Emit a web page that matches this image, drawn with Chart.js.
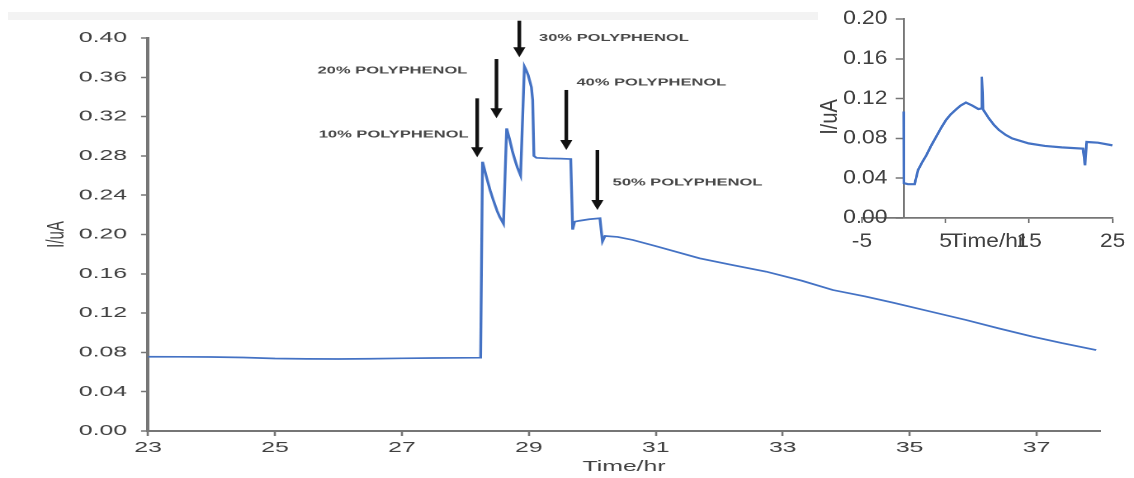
<!DOCTYPE html>
<html>
<head>
<meta charset="utf-8">
<title>Current response to polyphenol additions</title>
<script src="https://cdn.jsdelivr.net/npm/chart.js@4.4.1/dist/chart.umd.min.js"></script>
<style>
  html, body { margin: 0; padding: 0; background: #ffffff; overflow: hidden; }
  #stage { position: relative; width: 1134px; height: 478px; overflow: hidden; background: #ffffff; }
  .band { position: absolute; left: 8px; top: 12px; width: 810px; height: 8px; background: #f3f3f3; }
  /* both plots are drawn narrow and widened horizontally */
  #mainBox { position: absolute; left: 0; top: 0; width: 687px; height: 478px; transform-origin: 0 0; transform: scaleX(1.65066); }
  #insetBox { position: absolute; left: 820px; top: 0; width: 262px; height: 260px; transform-origin: 0 0; transform: scaleX(1.2); }
  canvas { display: block; }
</style>
</head>
<body>
<div id="stage">
  <div class="band"></div>
  <div id="mainBox"><canvas id="mainChart" width="687" height="478"></canvas></div>
  <div id="insetBox"><canvas id="insetChart" width="262" height="260"></canvas></div>
</div>
<script>
// Main trace: current (uA) against time (h), 23–38 h
const timeHr = [
  23.00, 23.50, 24.00, 24.50, 25.00, 25.50, 26.00, 26.50, 27.00, 27.50, 28.00, 28.24,
  28.27, 28.33, 28.39, 28.44, 28.50, 28.54, 28.60,
  28.65, 28.70, 28.74, 28.78, 28.82, 28.87,
  28.93, 28.96, 28.99, 29.04, 29.06, 29.08,
  29.12, 29.30, 29.50, 29.66,
  29.69, 29.72, 29.80, 29.95, 30.12,
  30.16, 30.20, 30.40, 30.64, 31.00, 31.69, 32.20, 32.74, 33.30, 33.79, 34.30, 34.74,
  35.30, 35.89, 36.40, 36.94, 37.40, 37.94
];
const currentUA = [
  0.0756, 0.0755, 0.0753, 0.0748, 0.0738, 0.0734, 0.0733, 0.0735, 0.0740, 0.0743, 0.0745, 0.0746,
  0.274, 0.259, 0.245, 0.235, 0.224, 0.218, 0.211,
  0.308, 0.296, 0.285, 0.276, 0.268, 0.260,
  0.371, 0.367, 0.362, 0.350, 0.337, 0.280,
  0.278, 0.2775, 0.2772, 0.2768,
  0.205, 0.213, 0.214, 0.2155, 0.2165,
  0.193, 0.1985, 0.1975, 0.1944, 0.1882, 0.1758, 0.1690, 0.1622, 0.1530, 0.1435, 0.1370, 0.1306,
  0.1220, 0.1130, 0.1045, 0.0960, 0.0895, 0.0824
];

// Inset trace: the first 25 h of the run
const insetTimeHr = [
  0.00, 0.02, 0.50, 1.30, 1.70, 2.20, 2.70, 3.30, 3.90, 4.50, 5.06, 5.60, 6.25, 6.80, 7.44, 8.20, 8.93,
  9.25, 9.35, 9.50, 10.20, 10.80, 11.40, 12.20, 12.97, 14.95, 16.90, 18.90, 21.47, 21.70, 21.90, 23.25, 25.00
];
const insetCurrentUA = [
  0.107, 0.035, 0.034, 0.034, 0.048, 0.056, 0.063, 0.073, 0.082, 0.091, 0.0985, 0.104, 0.109, 0.113, 0.116, 0.113, 0.1095,
  0.110, 0.142, 0.109, 0.100, 0.0935, 0.0884, 0.0835, 0.080, 0.075, 0.0724, 0.071, 0.0697, 0.053, 0.0764, 0.0757, 0.073
];

// Tick labels
const mainXTicks = [23, 25, 27, 29, 31, 33, 35, 37];
const mainYTicks = [0, 0.04, 0.08, 0.12, 0.16, 0.20, 0.24, 0.28, 0.32, 0.36, 0.40];
const insetXTicks = [-5, 5, 15, 25];
const insetYTicks = [0, 0.04, 0.08, 0.12, 0.16, 0.20];

// Polyphenol additions: arrow time, arrow top/tip current, label anchor (time, current)
const additionLabels = ['10% POLYPHENOL', '20% POLYPHENOL', '30% POLYPHENOL', '40% POLYPHENOL', '50% POLYPHENOL'];
const additionTimes = [28.186, 28.49, 28.85, 29.59, 30.08];
const arrowTopUA = [0.3386, 0.3786, 0.4176, 0.3471, 0.2860];
const arrowTipUA = [0.2786, 0.3183, 0.3804, 0.2860, 0.2249];
const labelTimes = [25.69, 25.67, 29.16, 29.75, 30.32];
const labelUA = [0.3013, 0.3667, 0.3997, 0.3545, 0.2527];

const AXIS = '#767676';
const TEXT = '#404040';
const LINE = '#4472C4';
const FONT = "'Liberation Sans', Arial, sans-serif";
Chart.defaults.font.family = FONT;

function fixedTicks(list) {
  return scale => { scale.ticks = list.map(v => ({ value: v })); };
}

// Arrows and captions marking each addition
const additionMarkers = {
  id: 'additionMarkers',
  afterDatasetsDraw(chart) {
    const { ctx, scales: { x, y } } = chart;
    ctx.save();
    additionLabels.forEach((txt, i) => {
      const px = x.getPixelForValue(additionTimes[i]);
      const top = y.getPixelForValue(arrowTopUA[i]);
      const tip = y.getPixelForValue(arrowTipUA[i]);
      const head = 10;
      ctx.strokeStyle = '#111111';
      ctx.fillStyle = '#111111';
      ctx.lineWidth = 2.2;
      ctx.beginPath();
      ctx.moveTo(px, top);
      ctx.lineTo(px, tip - head + 1);
      ctx.stroke();
      ctx.beginPath();
      ctx.moveTo(px - 3.7, tip - head);
      ctx.lineTo(px + 3.7, tip - head);
      ctx.lineTo(px, tip);
      ctx.closePath();
      ctx.fill();
      ctx.fillStyle = '#474747';
      ctx.font = 'bold 10px ' + FONT;
      ctx.textAlign = 'left';
      ctx.textBaseline = 'middle';
      ctx.fillText(txt, x.getPixelForValue(labelTimes[i]), y.getPixelForValue(labelUA[i]));
    });
    ctx.restore();
  }
};

new Chart(document.getElementById('mainChart'), {
  type: 'line',
  data: {
    datasets: [{
      data: timeHr.map((t, i) => ({ x: t, y: currentUA[i] })),
      borderColor: LINE,
      borderWidth: 1.7,
      pointRadius: 0,
      tension: 0,
      fill: false
    }]
  },
  options: {
    responsive: false,
    animation: false,
    devicePixelRatio: 2,
    layout: { padding: { left: 21.5, right: 20.6, top: 38, bottom: 0 } },
    plugins: { legend: { display: false }, tooltip: { enabled: false } },
    scales: {
      x: {
        type: 'linear', min: 23, max: 38,
        afterBuildTicks: fixedTicks(mainXTicks),
        afterFit: s => { s.height = 47; },
        grid: { drawOnChartArea: false, tickLength: 5, tickColor: AXIS, tickWidth: 1.3 },
        border: { color: AXIS, width: 2 },
        ticks: { font: { size: 15 }, color: TEXT, padding: 3, maxRotation: 0, autoSkip: false },
        title: { display: true, text: 'Time/hr', font: { size: 15 }, color: TEXT, padding: { top: 0, bottom: 2 } }
      },
      y: {
        min: 0, max: 0.4,
        afterBuildTicks: fixedTicks(mainYTicks),
        afterFit: s => { s.width = 68.2; },
        grid: { drawOnChartArea: false, tickLength: 4.24, tickColor: AXIS, tickWidth: 1.5 },
        border: { color: AXIS, width: 2 },
        ticks: { font: { size: 15 }, color: TEXT, padding: 8.5, callback: v => Number(v).toFixed(2) },
        title: { display: true, text: 'I/uA', font: { size: 15 }, color: TEXT, padding: { top: 4, bottom: 0 } }
      }
    }
  },
  plugins: [additionMarkers]
});

// Vertical axis caption of the inset, left of its value labels
const insetAxisCaption = {
  id: 'insetAxisCaption',
  afterDraw(chart) {
    const { ctx } = chart;
    ctx.save();
    ctx.translate(8.3, 117);
    ctx.rotate(-Math.PI / 2);
    ctx.font = '20px ' + FONT;
    ctx.fillStyle = TEXT;
    ctx.textAlign = 'center';
    ctx.textBaseline = 'middle';
    ctx.fillText('I/uA', 0, 0);
    ctx.restore();
  }
};

new Chart(document.getElementById('insetChart'), {
  type: 'line',
  data: {
    datasets: [{
      data: insetTimeHr.map((t, i) => ({ x: t, y: insetCurrentUA[i] })),
      borderColor: LINE,
      borderWidth: 2.2,
      pointRadius: 0,
      tension: 0,
      fill: false
    }]
  },
  options: {
    responsive: false,
    animation: false,
    devicePixelRatio: 2,
    layout: { padding: { left: 35, right: 16.2, top: 19, bottom: 0 } },
    plugins: { legend: { display: false }, tooltip: { enabled: false } },
    scales: {
      x: {
        type: 'linear', min: -5, max: 25,
        afterBuildTicks: fixedTicks(insetXTicks),
        afterFit: s => { s.height = 42; },
        grid: { drawOnChartArea: false, tickLength: 5, tickColor: AXIS, tickWidth: 1.3 },
        border: { color: AXIS, width: 1.8 },
        ticks: { font: { size: 19 }, color: TEXT, padding: 7.6, maxRotation: 0, autoSkip: false },
        title: { display: true, text: 'Time/hr', font: { size: 19 }, color: TEXT, padding: { top: 0, bottom: 6.6 } }
      },
      // axis line and tick marks crossing at time zero
      y: {
        position: { x: 0 },
        min: 0, max: 0.2,
        afterBuildTicks: fixedTicks(insetYTicks),
        grid: { drawOnChartArea: false, tickLength: 6, tickColor: AXIS, tickWidth: 1.5 },
        border: { color: AXIS, width: 1.8 },
        ticks: { display: false },
        title: { display: false }
      },
      // value labels for the axis above, set just left of it
      yLabels: {
        type: 'linear',
        position: 'left',
        min: 0, max: 0.2,
        afterBuildTicks: fixedTicks(insetYTicks),
        afterFit: s => { s.width = 0; },
        grid: { display: false, drawTicks: false },
        border: { display: false },
        ticks: { mirror: true, font: { size: 19 }, color: TEXT, padding: -15.8, callback: v => Number(v).toFixed(2) },
        title: { display: false }
      }
    }
  },
  plugins: [insetAxisCaption]
});
</script>
</body>
</html>
